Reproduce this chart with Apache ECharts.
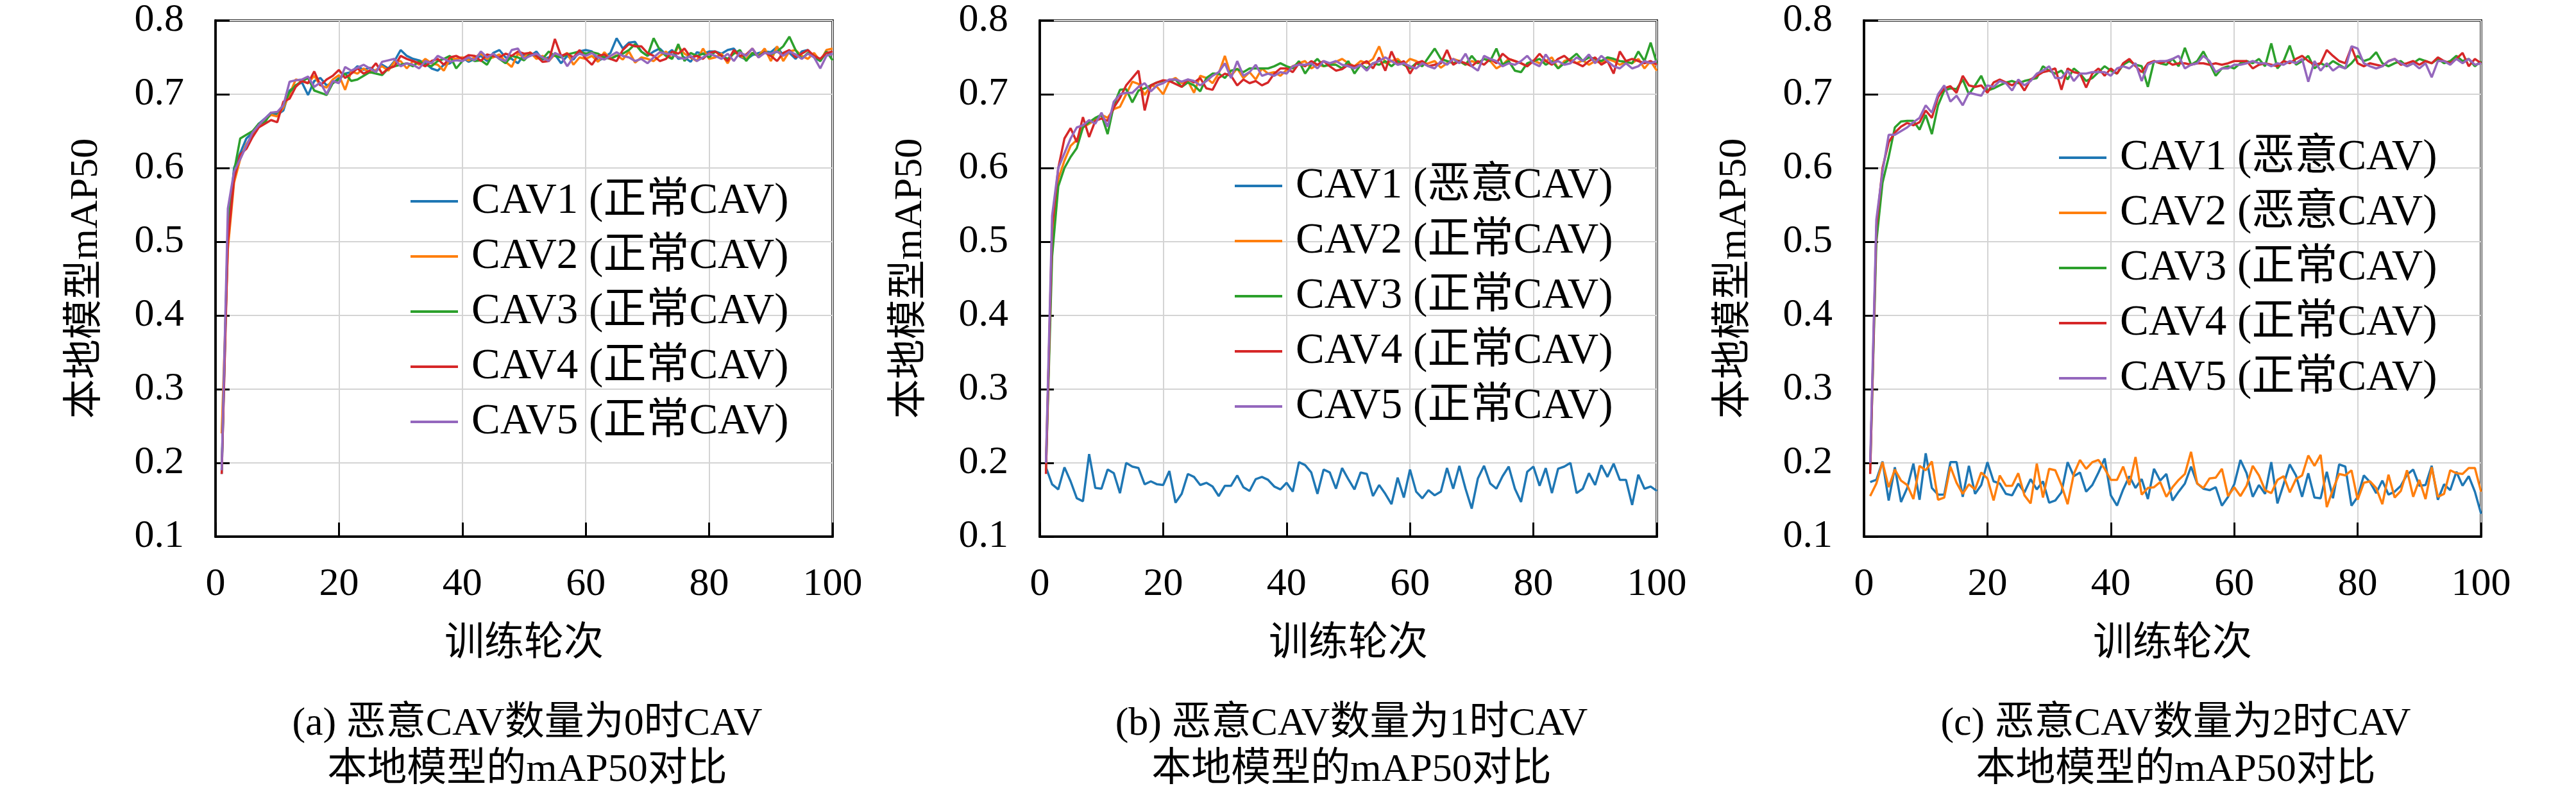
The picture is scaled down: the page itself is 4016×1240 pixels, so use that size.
<!DOCTYPE html>
<html>
<head>
<meta charset="utf-8">
<title>mAP50 对比</title>
<script src="https://cdn.jsdelivr.net/npm/echarts@6/dist/echarts.min.js"></script>
<style>
  html, body { margin: 0; padding: 0; background: #fff; }
  #main { width: 4016px; height: 1240px; }
</style>
</head>
<body>
<div id="main"></div>
<script>
// x: training epochs
var epochs = [1,2,3,4,5,6,7,8,9,10,11,12,13,14,15,16,17,18,19,20,
  21,22,23,24,25,26,27,28,29,30,31,32,33,34,35,36,37,38,39,40,
  41,42,43,44,45,46,47,48,49,50,51,52,53,54,55,56,57,58,59,60,
  61,62,63,64,65,66,67,68,69,70,71,72,73,74,75,76,77,78,79,80,
  81,82,83,84,85,86,87,88,89,90,91,92,93,94,95,96,97,98,99,100];

var yTicks = [0.1, 0.2, 0.3, 0.4, 0.5, 0.6, 0.7, 0.8];
var xTicks = [0, 20, 40, 60, 80, 100];

// (a) 0 malicious CAV
var aCav1 = [0.185,0.51,0.6,0.62,0.64,0.648,0.66,0.667,0.675,0.672,
  0.678,0.705,0.712,0.716,0.699,0.718,0.722,0.712,0.715,0.722,
  0.728,0.73,0.738,0.733,0.736,0.731,0.74,0.735,0.745,0.76,
  0.752,0.748,0.746,0.742,0.735,0.732,0.74,0.742,0.748,0.75,
  0.744,0.748,0.752,0.745,0.756,0.76,0.75,0.748,0.742,0.754,
  0.752,0.758,0.747,0.75,0.754,0.742,0.752,0.747,0.758,0.76,
  0.758,0.745,0.75,0.756,0.776,0.762,0.77,0.771,0.758,0.752,
  0.758,0.762,0.754,0.76,0.748,0.75,0.744,0.757,0.755,0.758,
  0.758,0.755,0.76,0.762,0.751,0.747,0.753,0.756,0.758,0.757,
  0.764,0.753,0.756,0.748,0.758,0.76,0.75,0.745,0.757,0.754];
var aCav2 = [0.24,0.49,0.58,0.612,0.632,0.645,0.657,0.665,0.672,0.67,
  0.682,0.7,0.72,0.718,0.715,0.725,0.712,0.709,0.72,0.726,
  0.706,0.731,0.728,0.735,0.729,0.733,0.738,0.732,0.744,0.745,
  0.735,0.745,0.74,0.748,0.742,0.74,0.732,0.748,0.748,0.75,
  0.746,0.75,0.755,0.748,0.75,0.754,0.744,0.737,0.755,0.75,
  0.757,0.748,0.752,0.745,0.754,0.751,0.756,0.74,0.75,0.748,
  0.752,0.744,0.757,0.748,0.753,0.747,0.758,0.743,0.75,0.748,
  0.745,0.752,0.758,0.748,0.765,0.755,0.75,0.745,0.762,0.748,
  0.75,0.755,0.742,0.758,0.752,0.748,0.756,0.752,0.762,0.745,
  0.765,0.745,0.758,0.76,0.752,0.748,0.756,0.745,0.76,0.762];
var aCav3 = [0.19,0.52,0.595,0.64,0.645,0.65,0.66,0.662,0.675,0.675,
  0.685,0.703,0.712,0.718,0.722,0.705,0.702,0.699,0.715,0.72,
  0.728,0.718,0.72,0.725,0.73,0.728,0.726,0.735,0.738,0.74,
  0.742,0.738,0.745,0.74,0.738,0.745,0.748,0.752,0.735,0.745,
  0.75,0.745,0.746,0.74,0.755,0.748,0.742,0.752,0.75,0.746,
  0.755,0.752,0.748,0.758,0.752,0.75,0.754,0.756,0.758,0.755,
  0.757,0.755,0.75,0.748,0.752,0.755,0.76,0.768,0.758,0.752,
  0.776,0.76,0.752,0.748,0.768,0.745,0.756,0.752,0.755,0.75,
  0.758,0.752,0.748,0.755,0.76,0.745,0.756,0.752,0.757,0.754,
  0.758,0.765,0.778,0.76,0.748,0.756,0.752,0.745,0.758,0.746];
var aCav4 = [0.185,0.5,0.585,0.618,0.626,0.642,0.655,0.66,0.665,0.662,
  0.69,0.694,0.71,0.718,0.715,0.731,0.712,0.72,0.725,0.733,
  0.722,0.728,0.735,0.728,0.732,0.742,0.728,0.735,0.738,0.752,
  0.748,0.745,0.742,0.738,0.745,0.748,0.74,0.75,0.752,0.748,
  0.753,0.752,0.745,0.754,0.752,0.75,0.755,0.752,0.758,0.755,
  0.756,0.752,0.744,0.745,0.775,0.752,0.755,0.75,0.76,0.748,
  0.74,0.752,0.754,0.748,0.745,0.76,0.768,0.765,0.765,0.756,
  0.752,0.745,0.748,0.758,0.755,0.762,0.75,0.752,0.748,0.756,
  0.758,0.752,0.745,0.76,0.752,0.754,0.762,0.75,0.757,0.752,
  0.745,0.756,0.76,0.75,0.755,0.76,0.752,0.748,0.756,0.758];
var aCav5 = [0.19,0.545,0.595,0.612,0.63,0.648,0.658,0.667,0.675,0.676,
  0.685,0.717,0.719,0.72,0.724,0.71,0.716,0.7,0.718,0.715,
  0.737,0.732,0.736,0.74,0.735,0.73,0.744,0.746,0.748,0.738,
  0.742,0.74,0.735,0.745,0.742,0.752,0.748,0.744,0.746,0.745,
  0.75,0.746,0.758,0.75,0.755,0.748,0.745,0.76,0.762,0.748,
  0.752,0.755,0.75,0.745,0.756,0.752,0.738,0.75,0.755,0.752,
  0.756,0.75,0.747,0.752,0.757,0.752,0.75,0.745,0.748,0.742,
  0.75,0.757,0.755,0.754,0.75,0.748,0.752,0.745,0.75,0.755,
  0.752,0.748,0.755,0.745,0.757,0.752,0.762,0.75,0.756,0.755,
  0.758,0.752,0.758,0.754,0.748,0.755,0.75,0.735,0.752,0.755];

// (b) 1 malicious CAV
var bCav1 = [0.194,0.171,0.164,0.194,0.175,0.152,0.148,0.212,0.166,0.165,
  0.191,0.186,0.159,0.2,0.195,0.193,0.171,0.175,0.171,0.17,
  0.189,0.146,0.158,0.185,0.181,0.17,0.173,0.168,0.155,0.169,
  0.169,0.183,0.167,0.162,0.178,0.181,0.177,0.168,0.164,0.173,
  0.161,0.201,0.197,0.187,0.158,0.191,0.187,0.165,0.193,0.178,
  0.164,0.187,0.185,0.155,0.17,0.158,0.144,0.18,0.153,0.191,
  0.161,0.152,0.163,0.156,0.161,0.193,0.165,0.196,0.165,0.138,
  0.179,0.196,0.172,0.165,0.182,0.195,0.165,0.147,0.188,0.195,
  0.169,0.193,0.159,0.192,0.195,0.2,0.159,0.165,0.186,0.17,
  0.197,0.181,0.199,0.177,0.177,0.143,0.184,0.165,0.168,0.162];
var bCav2 = [0.2,0.5,0.585,0.61,0.63,0.638,0.655,0.66,0.665,0.672,
  0.668,0.68,0.683,0.7,0.717,0.714,0.699,0.712,0.71,0.7,
  0.718,0.722,0.715,0.718,0.702,0.725,0.722,0.715,0.728,0.752,
  0.725,0.735,0.722,0.73,0.72,0.735,0.728,0.73,0.725,0.733,
  0.738,0.742,0.745,0.735,0.74,0.738,0.74,0.744,0.748,0.742,
  0.738,0.745,0.742,0.748,0.765,0.742,0.745,0.748,0.74,0.748,
  0.745,0.74,0.742,0.745,0.736,0.742,0.748,0.745,0.74,0.745,
  0.742,0.748,0.745,0.735,0.74,0.748,0.745,0.742,0.738,0.746,
  0.742,0.745,0.75,0.735,0.745,0.748,0.742,0.746,0.74,0.745,
  0.742,0.748,0.745,0.74,0.744,0.742,0.748,0.735,0.745,0.732];
var bCav3 = [0.19,0.48,0.575,0.6,0.615,0.627,0.655,0.662,0.668,0.672,
  0.646,0.685,0.706,0.707,0.689,0.705,0.708,0.712,0.716,0.718,
  0.718,0.72,0.71,0.716,0.712,0.704,0.722,0.728,0.728,0.722,
  0.732,0.734,0.73,0.735,0.735,0.735,0.735,0.738,0.742,0.738,
  0.735,0.745,0.728,0.74,0.748,0.738,0.74,0.74,0.735,0.745,
  0.728,0.74,0.735,0.742,0.74,0.745,0.738,0.745,0.74,0.735,
  0.742,0.738,0.75,0.762,0.748,0.745,0.742,0.745,0.74,0.752,
  0.742,0.748,0.745,0.762,0.74,0.745,0.732,0.73,0.742,0.745,
  0.748,0.74,0.745,0.735,0.742,0.748,0.755,0.745,0.75,0.748,
  0.745,0.75,0.748,0.745,0.744,0.742,0.758,0.745,0.77,0.742];
var bCav4 = [0.185,0.52,0.6,0.64,0.654,0.635,0.669,0.642,0.664,0.667,
  0.664,0.682,0.695,0.712,0.722,0.732,0.678,0.712,0.716,0.719,
  0.718,0.714,0.71,0.72,0.716,0.722,0.708,0.706,0.722,0.728,
  0.725,0.712,0.72,0.715,0.718,0.712,0.716,0.728,0.735,0.735,
  0.73,0.742,0.738,0.745,0.74,0.745,0.738,0.732,0.734,0.74,
  0.738,0.74,0.745,0.735,0.75,0.732,0.758,0.74,0.745,0.728,
  0.742,0.745,0.738,0.74,0.742,0.76,0.74,0.745,0.742,0.738,
  0.745,0.74,0.748,0.742,0.755,0.748,0.745,0.742,0.738,0.745,
  0.755,0.745,0.74,0.748,0.752,0.745,0.742,0.738,0.745,0.75,
  0.74,0.745,0.728,0.758,0.745,0.748,0.745,0.742,0.745,0.74];
var bCav5 = [0.2,0.535,0.6,0.62,0.64,0.655,0.658,0.665,0.66,0.675,
  0.656,0.69,0.7,0.702,0.702,0.71,0.715,0.704,0.712,0.715,
  0.72,0.72,0.717,0.72,0.718,0.712,0.718,0.725,0.73,0.742,
  0.722,0.745,0.725,0.73,0.74,0.725,0.728,0.725,0.73,0.728,
  0.738,0.74,0.74,0.742,0.735,0.745,0.742,0.745,0.74,0.738,
  0.735,0.74,0.732,0.742,0.745,0.75,0.745,0.74,0.742,0.738,
  0.735,0.742,0.738,0.735,0.745,0.74,0.748,0.742,0.755,0.738,
  0.732,0.752,0.748,0.745,0.738,0.742,0.74,0.745,0.752,0.742,
  0.738,0.754,0.742,0.745,0.74,0.742,0.75,0.745,0.754,0.742,
  0.752,0.745,0.738,0.735,0.742,0.735,0.738,0.745,0.742,0.745];

// (c) 2 malicious CAVs
var cCav1 = [0.174,0.177,0.202,0.149,0.194,0.147,0.166,0.199,0.15,0.213,
  0.166,0.157,0.157,0.201,0.201,0.154,0.196,0.158,0.17,0.201,
  0.175,0.172,0.158,0.156,0.172,0.16,0.178,0.164,0.175,0.146,
  0.149,0.16,0.201,0.182,0.187,0.161,0.17,0.187,0.206,0.156,
  0.142,0.164,0.182,0.166,0.178,0.151,0.192,0.176,0.185,0.149,
  0.161,0.172,0.195,0.172,0.165,0.163,0.167,0.142,0.154,0.171,
  0.204,0.186,0.154,0.17,0.158,0.201,0.145,0.171,0.198,0.183,
  0.154,0.186,0.153,0.152,0.188,0.152,0.198,0.195,0.142,0.154,
  0.183,0.174,0.159,0.176,0.157,0.161,0.169,0.184,0.191,0.169,
  0.17,0.196,0.15,0.171,0.163,0.188,0.169,0.182,0.161,0.131];
var cCav2 = [0.155,0.172,0.201,0.167,0.191,0.176,0.17,0.151,0.196,0.19,
  0.202,0.15,0.153,0.195,0.173,0.158,0.171,0.164,0.187,0.179,
  0.149,0.183,0.169,0.169,0.186,0.156,0.145,0.199,0.153,0.192,
  0.19,0.17,0.144,0.185,0.204,0.192,0.201,0.204,0.192,0.177,
  0.177,0.195,0.17,0.208,0.157,0.166,0.167,0.174,0.154,0.167,
  0.177,0.185,0.215,0.172,0.166,0.179,0.18,0.192,0.155,0.167,
  0.155,0.169,0.196,0.183,0.163,0.159,0.177,0.182,0.16,0.178,
  0.183,0.21,0.196,0.211,0.14,0.164,0.185,0.183,0.19,0.15,
  0.173,0.175,0.166,0.144,0.184,0.153,0.162,0.19,0.154,0.177,
  0.151,0.194,0.154,0.158,0.19,0.186,0.185,0.193,0.193,0.161];
var cCav3 = [0.19,0.5,0.58,0.615,0.655,0.663,0.664,0.664,0.652,0.672,
  0.646,0.685,0.705,0.708,0.707,0.72,0.7,0.712,0.725,0.705,
  0.708,0.712,0.716,0.718,0.715,0.718,0.72,0.722,0.738,0.732,
  0.728,0.732,0.72,0.735,0.728,0.718,0.722,0.73,0.738,0.732,
  0.728,0.74,0.745,0.74,0.738,0.71,0.745,0.742,0.74,0.748,
  0.738,0.763,0.74,0.745,0.758,0.742,0.725,0.735,0.738,0.735,
  0.742,0.745,0.742,0.748,0.738,0.769,0.735,0.745,0.766,0.74,
  0.745,0.752,0.735,0.742,0.738,0.745,0.74,0.735,0.742,0.752,
  0.745,0.748,0.757,0.742,0.738,0.742,0.745,0.738,0.742,0.748,
  0.745,0.742,0.748,0.742,0.745,0.752,0.745,0.748,0.738,0.745];
var cCav4 = [0.185,0.52,0.6,0.635,0.648,0.656,0.661,0.658,0.662,0.678,
  0.668,0.696,0.708,0.711,0.702,0.725,0.712,0.71,0.712,0.702,
  0.716,0.72,0.716,0.712,0.718,0.705,0.72,0.725,0.73,0.732,
  0.735,0.706,0.735,0.73,0.728,0.709,0.728,0.735,0.725,0.735,
  0.728,0.742,0.748,0.738,0.73,0.742,0.745,0.742,0.745,0.74,
  0.742,0.742,0.74,0.742,0.742,0.74,0.742,0.74,0.742,0.745,
  0.745,0.745,0.735,0.74,0.742,0.74,0.738,0.745,0.742,0.748,
  0.752,0.745,0.74,0.742,0.76,0.752,0.745,0.742,0.764,0.742,
  0.738,0.742,0.74,0.738,0.745,0.748,0.74,0.742,0.745,0.74,
  0.745,0.742,0.75,0.745,0.742,0.748,0.756,0.738,0.748,0.742];
var cCav5 = [0.2,0.53,0.595,0.645,0.645,0.65,0.655,0.662,0.668,0.685,
  0.675,0.7,0.712,0.69,0.698,0.685,0.702,0.7,0.698,0.712,
  0.71,0.718,0.715,0.705,0.72,0.712,0.718,0.728,0.732,0.738,
  0.722,0.722,0.732,0.718,0.728,0.728,0.73,0.73,0.73,0.725,
  0.735,0.738,0.735,0.742,0.718,0.74,0.744,0.745,0.745,0.748,
  0.752,0.735,0.74,0.742,0.752,0.745,0.73,0.735,0.735,0.74,
  0.74,0.742,0.745,0.742,0.742,0.738,0.742,0.74,0.745,0.742,
  0.748,0.717,0.745,0.732,0.742,0.732,0.738,0.735,0.765,0.762,
  0.742,0.738,0.735,0.738,0.745,0.748,0.742,0.738,0.742,0.735,
  0.742,0.723,0.745,0.745,0.74,0.748,0.742,0.748,0.74,0.742];

var namesA = ['CAV1 (正常CAV)', 'CAV2 (正常CAV)', 'CAV3 (正常CAV)', 'CAV4 (正常CAV)', 'CAV5 (正常CAV)'];
var namesB = ['CAV1 (恶意CAV)', 'CAV2 (正常CAV)', 'CAV3 (正常CAV)', 'CAV4 (正常CAV)', 'CAV5 (正常CAV)'];
var namesC = ['CAV1 (恶意CAV)', 'CAV2 (恶意CAV)', 'CAV3 (正常CAV)', 'CAV4 (正常CAV)', 'CAV5 (正常CAV)'];
var captions = [
  '(a) 恶意CAV数量为0时CAV\n本地模型的mAP50对比',
  '(b) 恶意CAV数量为1时CAV\n本地模型的mAP50对比',
  '(c) 恶意CAV数量为2时CAV\n本地模型的mAP50对比'
];
var colors = ['#1f77b4', '#ff7f0e', '#2ca02c', '#d62728', '#9467bd'];

var panels = [
  { key: 'a', names: namesA, data: [aCav1, aCav2, aCav3, aCav4, aCav5], left: 336, legendTop: 274 },
  { key: 'b', names: namesB, data: [bCav1, bCav2, bCav3, bCav4, bCav5], left: 1621, legendTop: 250 },
  { key: 'c', names: namesC, data: [cCav1, cCav2, cCav3, cCav4, cCav5], left: 2906, legendTop: 206 }
];

var font = "'Liberation Serif', 'Noto Sans CJK SC', serif";
var gridW = 962, gridTop = 32, gridH = 805;

function pairs(vals) {
    return epochs.map(function (e, i) { return [e, vals[i]]; });
}

var grids = [], xAxes = [], yAxes = [], series = [], legends = [], titles = [];
panels.forEach(function (p, k) {
    grids.push({
        left: p.left, top: gridTop, width: gridW, height: gridH,
        show: true, borderColor: '#000', borderWidth: 3.5, backgroundColor: 'transparent'
    });
    xAxes.push({
        gridIndex: k, type: 'value', min: xTicks[0], max: xTicks[xTicks.length - 1], interval: 20,
        name: '训练轮次', nameLocation: 'middle', nameGap: 138,
        nameTextStyle: { fontFamily: font, fontSize: 62, color: '#000' },
        axisLine: { show: true, lineStyle: { color: '#000', width: 3.5 } },
        axisTick: { show: true, inside: true, length: 22, lineStyle: { color: '#000', width: 3 } },
        axisLabel: { fontFamily: font, fontSize: 62, color: '#000', margin: 44 },
        splitLine: { show: true, lineStyle: { color: '#d4d4d4', width: 2 } }
    });
    yAxes.push({
        gridIndex: k, type: 'value', min: yTicks[0], max: yTicks[yTicks.length - 1], interval: 0.1,
        name: '本地模型mAP50', nameLocation: 'middle', nameGap: 170, nameRotate: 90,
        nameTextStyle: { fontFamily: font, fontSize: 62, color: '#000' },
        axisLine: { show: true, lineStyle: { color: '#000', width: 3.5 } },
        axisTick: { show: true, inside: true, length: 22, lineStyle: { color: '#000', width: 3 } },
        axisLabel: {
            fontFamily: font, fontSize: 62, color: '#000', margin: 49,
            formatter: function (v) { return v.toFixed(1); }
        },
        splitLine: { show: true, lineStyle: { color: '#d4d4d4', width: 2 } }
    });
    var legendData = [];
    p.names.forEach(function (nm, j) {
        var sname = p.key + '|' + nm;
        legendData.push(sname);
        series.push({
            name: sname, type: 'line', xAxisIndex: k, yAxisIndex: k,
            data: pairs(p.data[j]), showSymbol: false, symbol: 'none',
            lineStyle: { color: colors[j], width: 3.5 }, itemStyle: { color: colors[j] },
            animation: false
        });
    });
    legends.push({
        data: legendData, left: p.left + 299, top: p.legendTop, orient: 'vertical',
        icon: 'rect', itemWidth: 74, itemHeight: 4, itemGap: 16,
        selectedMode: false,
        formatter: function (n) { return n.split('|')[1]; },
        textStyle: { fontFamily: font, fontSize: 67, color: '#000', lineHeight: 70, padding: [0, 0, 0, 16] }
    });
    titles.push({
        text: captions[k], left: p.left + gridW / 2, top: 1089, textAlign: 'center',
        textStyle: { fontFamily: font, fontSize: 62, fontWeight: 'normal', color: '#000', lineHeight: 72 }
    });
});

var myChart = echarts.init(document.getElementById('main'));
var option = {
    backgroundColor: '#fff',
    animation: false,
    title: titles,
    legend: legends,
    grid: grids,
    xAxis: xAxes,
    yAxis: yAxes,
    series: series
};
myChart.setOption(option, true);
window.onresize = myChart.resize;
</script>
</body>
</html>
